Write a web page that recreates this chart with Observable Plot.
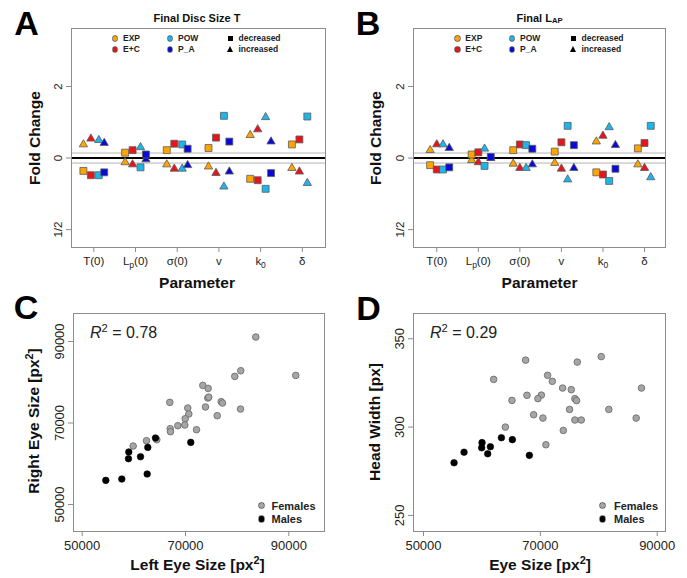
<!DOCTYPE html>
<html><head><meta charset="utf-8">
<script src="https://cdn.jsdelivr.net/npm/d3@7"></script>
<script src="https://cdn.jsdelivr.net/npm/@observablehq/plot@0.6"></script>
<style>
body{margin:0;background:#fff;font-family:"Liberation Sans",Arial,Helvetica,sans-serif;}
#root{position:relative;width:687px;height:578px;overflow:hidden;background:#fff}
.pan{position:absolute;}
.t{position:absolute;white-space:nowrap;line-height:1;transform:translate(-50%,-50%);color:#111}
.r{transform:translate(-50%,-50%) rotate(-90deg)}
.b{font-weight:bold}
.lg{position:absolute;white-space:nowrap;line-height:1;font-weight:bold;color:#222;transform:translateY(-50%)}
.mk{position:absolute}
sub{font-size:70%;vertical-align:-0.25em;line-height:0}
sup{font-size:70%;vertical-align:0.55em;line-height:0}
</style></head><body><div id="root"></div>
<script>
// ---------- data ----------
const params = ["T(0)", "Lp(0)", "σ(0)", "v", "k0", "δ"];
const models = ["EXP", "E+C", "POW", "P_A"];
const modelColors = ["#FFA500", "#E8141B", "#1DB6EA", "#0A0AD8"];
const foldTicks = [-1, 0, 1];
const foldTickLabels = ["1/2", "0", "2"];
const bandLines = [-0.07, 0.07];

// Panel A: Final Disc Size T (log2 fold change), rows = models, cols = params
const incA = [
  [0.19, -0.06, -0.09, -0.12, 0.32, -0.14],
  [0.27, -0.09, -0.15, -0.21, 0.40, -0.19],
  [0.25, 0.15, -0.15, -0.40, 0.57, -0.35],
  [0.21, -0.02, -0.10, -0.19, 0.23, null]
];
const decA = [
  [-0.18, 0.075, 0.11, 0.14, -0.29, 0.19],
  [-0.24, 0.11, 0.20, 0.285, -0.31, 0.26],
  [-0.24, -0.13, 0.19, 0.59, -0.43, 0.58],
  [-0.20, 0.05, 0.13, 0.23, -0.21, null]
];
// Panel B: Final L_AP
const incB = [
  [0.11, -0.03, -0.08, -0.07, 0.23, -0.09],
  [0.19, -0.06, -0.14, -0.15, 0.31, -0.14],
  [0.19, 0.13, -0.14, -0.30, 0.43, -0.27],
  [0.14, 0.00, -0.09, -0.14, 0.18, null]
];
const decB = [
  [-0.10, 0.05, 0.11, 0.09, -0.20, 0.135],
  [-0.16, 0.08, 0.19, 0.22, -0.23, 0.21],
  [-0.16, -0.11, 0.18, 0.45, -0.32, 0.45],
  [-0.13, 0.015, 0.13, 0.18, -0.15, null]
];
const dodgeA = [-0.25, -0.07, 0.12, 0.25];
const dodgeB = [-0.16, 0, 0.15, 0.30];

// Panel C: left vs right eye size
const femLeftC = [83610, 91350, 80700, 79540, 73350, 74390, 74320, 74500, 73870, 76910, 77160, 80650, 76140, 66960, 70440, 70640, 69940, 69860, 68510, 67040, 67090, 72130, 62450, 64440, 59870];
const femRightC = [91100, 81680, 82830, 81440, 79230, 78490, 76130, 76350, 73930, 75230, 74900, 73430, 71790, 75060, 73680, 72210, 71050, 69510, 69340, 68600, 67870, 68350, 65660, 65900, 64350];
const maleLeftC = [54570, 57670, 62580, 58960, 59020, 61290, 62700, 64190, 71020];
const maleRightC = [55920, 56250, 57480, 61240, 62880, 61730, 64010, 66320, 65240];
const ticksC = [50000, 70000, 90000];

// Panel D: eye size vs head width
const femEyeD = [80420, 76320, 67480, 62010, 71240, 72050, 73810, 75290, 87310, 67710, 70170, 69590, 65140, 75910, 76200, 75000, 81720, 68850, 70440, 75910, 77000, 86400, 64010, 73930, 70950];
const femHeadD = [339.9, 336.8, 337.9, 327.0, 329.3, 325.9, 322.1, 321.2, 322.1, 318.0, 318.1, 316.1, 315.1, 316.1, 315.0, 310.0, 310.0, 307.0, 305.1, 304.0, 304.0, 305.1, 300.0, 298.1, 290.0];
const maleEyeD = [55230, 56940, 60020, 59960, 61450, 60990, 63330, 65210, 68120];
const maleHeadD = [279.8, 285.8, 291.2, 288.3, 288.9, 284.9, 294.0, 292.9, 284.0];
const ticksDx = [50000, 70000, 90000];
const ticksDy = [250, 300, 350];

// ---------- helpers ----------
const FONT = '"Liberation Sans", Arial, Helvetica, sans-serif';
const GRID = "#8c8c8c";
const smallTri = {draw(ctx, size) { d3.symbolTriangle.draw(ctx, size * 0.62); }};
const root = document.getElementById("root");

function place(node, left, top) {
  const d = document.createElement("div");
  d.className = "pan";
  d.style.left = left + "px"; d.style.top = top + "px";
  d.appendChild(node); root.appendChild(d);
}
function txt(html, x, y, size, cls = "", extra = "") {
  const d = document.createElement("div");
  d.className = "t " + cls;
  d.style.cssText += `left:${x}px;top:${y}px;font-size:${size}px;${extra}`;
  d.innerHTML = html; root.appendChild(d);
}
function legText(html, x, y, size, weight = "bold") {
  const d = document.createElement("div");
  d.className = "lg";
  d.style.cssText += `left:${x}px;top:${y}px;font-size:${size}px;font-weight:${weight};`;
  d.innerHTML = html; root.appendChild(d);
}
function marker(kind, x, y, color, s) {
  const d = document.createElement("span");
  d.className = "mk";
  if (kind === "circle") {
    d.style.cssText += `left:${x - s/2}px;top:${y - s/2}px;width:${s}px;height:${s}px;border-radius:50%;background:${color};box-shadow:0 0 0 0.7px #555;`;
  } else if (kind === "square") {
    d.style.cssText += `left:${x - s/2}px;top:${y - s/2}px;width:${s}px;height:${s}px;background:${color};`;
  } else {
    d.style.cssText += `left:${x - s*0.6}px;top:${y - s*0.55}px;width:0;height:0;border-left:${s*0.6}px solid transparent;border-right:${s*0.6}px solid transparent;border-bottom:${s}px solid ${color};`;
  }
  root.appendChild(d);
}
function foldData(inc, dec, dodge) {
  const out = [];
  models.forEach((m, mi) => params.forEach((p, pi) => {
    [[inc, false], [dec, true]].forEach(([arr, isDec]) => {
      const v = arr[mi][pi];
      if (v != null) out.push({x: pi + 1 + dodge[mi], y: v, color: modelColors[mi], dec: isDec});
    });
  }));
  return out;
}
const subs = {"Lp(0)": ["L", "p", "(0)"], "k0": ["k", "0", ""]};
function subscriptTicks(svg) {
  svg.querySelectorAll("text").forEach(t => {
    const s = subs[t.textContent];
    if (s) t.innerHTML = `${s[0]}<tspan dy="3" font-size="8.5">${s[1]}</tspan><tspan dy="-3">${s[2]}</tspan>`;
  });
}

function foldPlot(inc, dec, dodge, width, mL, mR, xdom) {
  const svg = Plot.plot({
    width, height: 290,
    marginLeft: mL, marginRight: mR, marginTop: 28, marginBottom: 43,
    style: {fontFamily: FONT, fontSize: "11.5px", color: "#222", background: "transparent"},
    x: {domain: xdom, axis: null},
    y: {domain: [-1.25, 1.81], axis: null},
    marks: [
      Plot.ruleY(bandLines, {stroke: "#b4b4b4", strokeWidth: 1}),
      Plot.ruleY([0], {stroke: "#000", strokeWidth: 2}),
      Plot.frame({stroke: GRID}),
      Plot.axisX(d3.range(1, params.length + 1), {label: null, tickFormat: i => params[i - 1], tickSize: 5, tickPadding: 4, stroke: GRID, fill: "#222", fontSize: 11.5}),
      Plot.axisY(foldTicks, {label: null, tickFormat: d => foldTickLabels[foldTicks.indexOf(d)], tickRotate: -90, tickSize: 5, tickPadding: 5, stroke: GRID, fill: "#222", fontSize: 11.5}),
      Plot.dot(foldData(inc, dec, dodge), {x: "x", y: "y", fill: "color", stroke: "#5a5a5a", strokeWidth: 0.8, r: 3.9,
        symbol: d => d.dec ? d3.symbolSquare : smallTri})
    ]
  });
  subscriptTicks(svg);
  return svg;
}

function scatterPlot(width, mL, mR, xdom, ydom, xt, yt, fx, fy, mx, my) {
  const fem = fx.map((v, i) => ({x: v, y: fy[i]}));
  const mal = mx.map((v, i) => ({x: v, y: my[i]}));
  return Plot.plot({
    width, height: 288,
    marginLeft: mL, marginRight: mR, marginTop: 23, marginBottom: 47,
    style: {fontFamily: FONT, fontSize: "13px", color: "#222", background: "transparent"},
    x: {domain: xdom, axis: null},
    y: {domain: ydom, axis: null},
    marks: [
      Plot.frame({stroke: GRID}),
      Plot.axisX(xt, {label: null, tickFormat: d => String(d), tickSize: 5, tickPadding: 4, stroke: GRID, fill: "#222", fontSize: 13}),
      Plot.axisY(yt, {label: null, tickFormat: d => String(d), tickRotate: -90, tickSize: 5, tickPadding: 5, stroke: GRID, fill: "#222", fontSize: 13}),
      Plot.dot(fem, {x: "x", y: "y", fill: "#a6a6a6", stroke: "#6e6e6e", strokeWidth: 0.9, r: 3.3}),
      Plot.dot(mal, {x: "x", y: "y", fill: "#000", stroke: "#000", strokeWidth: 0.6, r: 3.3})
    ]
  });
}

// ---------- panels ----------
place(foldPlot(incA, decA, dodgeA, 343, 71, 18, [0.465, 6.556]), 0, 0);
place(foldPlot(incB, decB, dodgeB, 344, 70, 22, [0.44, 6.505]), 343, 0);
place(scatterPlot(343, 73, 19, [48316, 96911], [43374, 96871], ticksC, ticksC,
  femLeftC, femRightC, maleLeftC, maleRightC), 0, 290);
place(scatterPlot(344, 70, 22, [48291, 91418], [240.9, 364.3], ticksDx, ticksDy,
  femEyeD, femHeadD, maleEyeD, maleHeadD), 343, 290);

// ---------- text ----------
txt("A", 26.5, 23, 34, "b", "color:#000");
txt("B", 368, 23, 34, "b", "color:#000");
txt("C", 26, 307, 34, "b", "color:#000");
txt("D", 368.5, 307.5, 34, "b", "color:#000");

txt("Final Disc Size T", 197, 18, 11, "b");
txt("Final L<sub>AP</sub>", 539.5, 18, 11, "b");
txt("Fold Change", 35, 138, 15.5, "b r");
txt("Fold Change", 375.5, 138, 15.5, "b r");
txt("Parameter", 197, 283, 15.5, "b");
txt("Parameter", 539.5, 283, 15.5, "b");

txt("Right Eye Size [px<sup>2</sup>]", 33.5, 421, 15.5, "b r");
txt("Left Eye Size [px<sup>2</sup>]", 197.5, 565, 15.5, "b");
txt("Head Width [px]", 375, 421.5, 15.5, "b r");
txt("Eye Size [px<sup>2</sup>]", 540, 565, 15.5, "b");

legText("<i>R</i><sup>2</sup> = 0.78", 90, 333, 16, "normal");
legText("<i>R</i><sup>2</sup> = 0.29", 430, 333, 16, "normal");

// ---------- legends ----------
function foldLegend(x1, x2, x3) {
  const rows = [38.3, 49.3];
  [[0, x1, rows[0]], [1, x1, rows[1]], [2, x2, rows[0]], [3, x2, rows[1]]].forEach(([mi, x, y]) => {
    marker("circle", x, y, modelColors[mi], 4.6);
    legText(models[mi], x + 8, y, 8.5);
  });
  marker("square", x3, rows[0], "#000", 5);
  legText("decreased", x3 + 8, rows[0], 8.5);
  marker("tri", x3, rows[1], "#000", 6);
  legText("increased", x3 + 8, rows[1], 8.5);
}
foldLegend(115, 170, 230.5);
foldLegend(457.3, 512, 573.5);

function sexLegend(x, tx) {
  marker("circle", x, 505.7, "#a6a6a6", 5.5);
  legText("Females", tx, 505.7, 11);
  marker("circle", x, 519, "#000", 5.5);
  legText("Males", tx, 519, 11);
}
sexLegend(261.7, 271.5);
sexLegend(602.7, 614);
</script></body></html>
